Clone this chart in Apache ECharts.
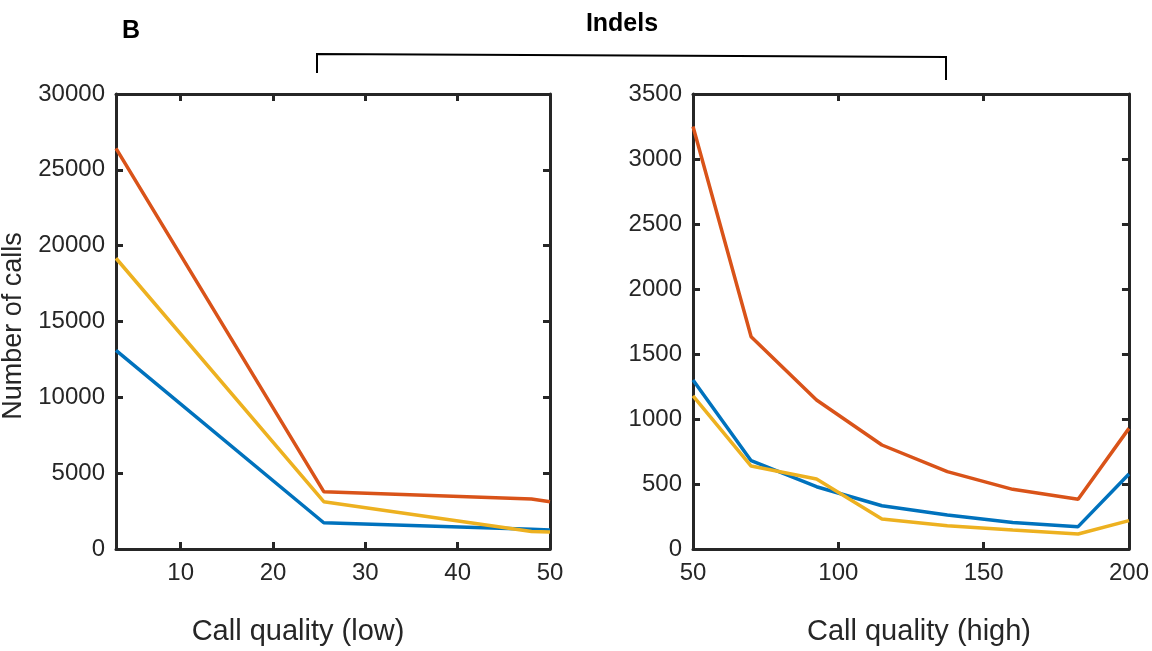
<!DOCTYPE html>
<html>
<head>
<meta charset="utf-8">
<script src="https://cdn.jsdelivr.net/npm/echarts@6/dist/echarts.min.js"></script>
<style>
html,body{margin:0;padding:0;background:#fff;}
#chart{width:1152px;height:651px;}
</style>
</head>
<body>
<div id="chart"></div>
<script>
// ---- data ----
var lowX = [3, 25.5, 48, 50];
var lowBlue = [13100, 1730, 1300, 1250];
var lowOrange = [26420, 3780, 3300, 3120];
var lowYellow = [19170, 3120, 1160, 1120];

var highX = [50, 70, 92.5, 115, 137.5, 160, 182.5, 200];
var highBlue = [1300, 679, 479, 333, 262, 203, 172, 577];
var highOrange = [3250, 1633, 1146, 800, 595, 459, 382, 928];
var highYellow = [1177, 638, 538, 231, 179, 146, 115, 218];

var lowXTicks = [10, 20, 30, 40, 50];
var lowYTicks = [0, 5000, 10000, 15000, 20000, 25000, 30000];
var highXTicks = [50, 100, 150, 200];
var highYTicks = [0, 500, 1000, 1500, 2000, 2500, 3000, 3500];

var titleText = 'Indels';
var panelLetter = 'B';
var yName = 'Number of calls';
var lowXName = 'Call quality (low)';
var highXName = 'Call quality (high)';

var colors = {blue: '#0072BD', orange: '#D95319', yellow: '#EDB120'};

// ---- chart ----
var axisColor = '#262626';
var FONT = '"Liberation Sans", Arial, Helvetica, sans-serif';
function pairs(xs, ys) { return xs.map(function (x, i) { return [x, ys[i]]; }); }
function plain(v) { return String(v); }

function mkX(gridIndex, pos, min, max, ticks, showLabel) {
  return {
    type: 'value', gridIndex: gridIndex, position: pos, min: min, max: max,
    splitLine: {show: false},
    axisLine: {show: true, onZero: false, lineStyle: {color: axisColor, width: 3}},
    axisTick: {show: true, inside: true, length: 7, lineStyle: {color: axisColor, width: 3}, customValues: ticks},
    axisLabel: {show: showLabel, customValues: ticks, formatter: plain, color: axisColor, fontSize: 24, fontFamily: FONT, margin: 12}
  };
}
function mkY(gridIndex, pos, min, max, interval, showLabel) {
  return {
    type: 'value', gridIndex: gridIndex, position: pos, min: min, max: max, interval: interval,
    splitLine: {show: false},
    axisLine: {show: true, onZero: false, lineStyle: {color: axisColor, width: 3}},
    axisTick: {show: true, inside: true, length: 7, lineStyle: {color: axisColor, width: 3}},
    axisLabel: {show: showLabel, formatter: plain, color: axisColor, fontSize: 24, fontFamily: FONT, margin: 11}
  };
}
function line(xi, yi, data, color) {
  return {
    type: 'line', xAxisIndex: xi, yAxisIndex: yi, data: data, symbol: 'none',
    lineStyle: {color: color, width: 3.5}, itemStyle: {color: color}, animation: false, silent: true
  };
}

var chart = echarts.init(document.getElementById('chart'), null, {renderer: 'canvas'});
chart.setOption({
  backgroundColor: '#fff',
  animation: false,
  grid: [
    {left: 116, top: 94, width: 434, height: 455},
    {left: 693, top: 94, width: 437, height: 455}
  ],
  xAxis: [
    mkX(0, 'bottom', lowX[0], lowX[lowX.length - 1], lowXTicks, true),
    mkX(0, 'top', lowX[0], lowX[lowX.length - 1], lowXTicks, false),
    mkX(1, 'bottom', highX[0], highX[highX.length - 1], highXTicks, true),
    mkX(1, 'top', highX[0], highX[highX.length - 1], highXTicks, false)
  ],
  yAxis: [
    mkY(0, 'left', lowYTicks[0], lowYTicks[lowYTicks.length - 1], lowYTicks[1] - lowYTicks[0], true),
    mkY(0, 'right', lowYTicks[0], lowYTicks[lowYTicks.length - 1], lowYTicks[1] - lowYTicks[0], false),
    mkY(1, 'left', highYTicks[0], highYTicks[highYTicks.length - 1], highYTicks[1] - highYTicks[0], true),
    mkY(1, 'right', highYTicks[0], highYTicks[highYTicks.length - 1], highYTicks[1] - highYTicks[0], false)
  ],
  series: [
    line(0, 0, pairs(lowX, lowBlue), colors.blue),
    line(0, 0, pairs(lowX, lowOrange), colors.orange),
    line(0, 0, pairs(lowX, lowYellow), colors.yellow),
    line(2, 2, pairs(highX, highBlue), colors.blue),
    line(2, 2, pairs(highX, highOrange), colors.orange),
    line(2, 2, pairs(highX, highYellow), colors.yellow)
  ],
  graphic: [
    {type: 'text', x: 622, y: 24, style: {text: titleText, fill: '#000', font: 'bold 25px ' + FONT, textAlign: 'center', textVerticalAlign: 'middle'}},
    {type: 'text', x: 131, y: 31, style: {text: panelLetter, fill: '#000', font: 'bold 25px ' + FONT, textAlign: 'center', textVerticalAlign: 'middle'}},
    {type: 'polyline', shape: {points: [[317, 73], [317, 54], [946, 57], [946, 80]]}, style: {stroke: '#000', lineWidth: 2, fill: null}},
    {type: 'text', x: 298, y: 632, style: {text: lowXName, fill: axisColor, font: '29px ' + FONT, textAlign: 'center', textVerticalAlign: 'middle'}},
    {type: 'text', x: 919, y: 632, style: {text: highXName, fill: axisColor, font: '29px ' + FONT, textAlign: 'center', textVerticalAlign: 'middle'}},
    {type: 'text', x: 14, y: 326, rotation: Math.PI / 2, style: {text: yName, fill: axisColor, font: '27px ' + FONT, textAlign: 'center', textVerticalAlign: 'middle'}}
  ]
});
</script>
</body>
</html>
